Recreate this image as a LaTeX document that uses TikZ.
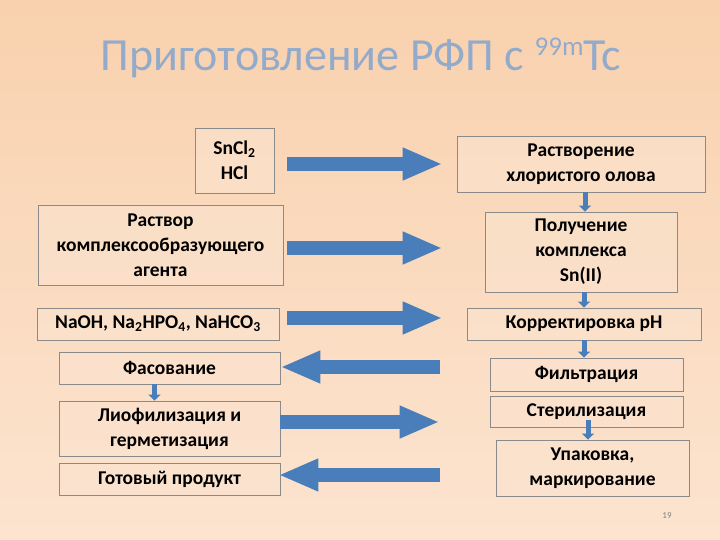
\documentclass[tikz,border=0pt]{standalone}
\usepackage{fontspec}
\setmainfont{Carlito}
\usetikzlibrary{arrows.meta,calc}
\definecolor{bgtop}{HTML}{F9D1AE}
\definecolor{bgbot}{HTML}{FCE4D0}
\definecolor{arr}{HTML}{4A7EBB}
\definecolor{boxline}{HTML}{8A8A8A}
\definecolor{boxfill}{HTML}{FBE3CF}
\definecolor{titlec}{HTML}{93ABCB}
\tikzset{
  pbox/.style={draw=boxline, line width=0.8pt, fill=boxfill, fill opacity=0.6, text opacity=1,
    font=\fontsize{19.5}{25}\selectfont\bfseries, align=center, inner sep=0pt, text=black},
  bigarr/.style={draw=arr, line width=14pt, -{Triangle[length=40pt,width=30pt]}},
  smallarr/.style={draw=arr, line width=5pt, -{Triangle[length=6pt,width=12pt]}},
}
\newcommand{\pboxat}[6]{% name, x1,y1,x2,y2, text
  \node[pbox, minimum width={#4-#2}, minimum height={#5-#3}] (#1) at ({(#2+#4)/2},{(#3+#5)/2}) {#6};}
\begin{document}
\begin{tikzpicture}[x=1pt,y=-1pt]
\shade[top color=bgtop, bottom color=bgbot] (0,0) rectangle (720,540);
\useasboundingbox (0,0) rectangle (720,540);
\node[text=titlec, font=\fontsize{46}{52}\selectfont, anchor=base] (title) at (361,71) {Приготовление РФП с \raisebox{15pt}{\fontsize{27}{29}\selectfont 99m}Тс};
% left column
\pboxat{sn}{195}{128}{274}{193}{SnCl\textsubscript{2}\\HCl}
\pboxat{agent}{38}{205}{283}{285}{Раствор\\комплексообразующего\\агента}
\pboxat{naoh}{37}{308}{279}{340}{NaOH, Na\textsubscript{2}HPO\textsubscript{4}, NaHCO\textsubscript{3}}
\pboxat{fas}{59}{352}{280}{384}{Фасование}
\pboxat{lio}{59}{401}{280}{456}{Лиофилизация и\\герметизация}
\pboxat{got}{59}{463}{280}{495}{Готовый продукт}
% right column
\pboxat{rast}{457}{136}{705}{192}{Растворение\\хлористого олова}
\pboxat{pol}{485}{212}{677}{292}{Получение\\комплекса\\Sn(II)}
\pboxat{korr}{467}{308}{701}{340}{Корректировка pH}
\pboxat{filt}{490}{358}{683}{391}{Фильтрация}
\pboxat{ster}{490}{396}{683}{427}{Стерилизация}
\pboxat{upak}{496}{440}{689}{496}{Упаковка,\\маркирование}
% big arrows
\draw[bigarr, shorten <=13pt, shorten >=14pt] (sn.east |- rast.west) -- (rast.west);
\draw[bigarr, shorten <=4pt, shorten >=42pt] ([yshift=-3pt]agent.east) -- ([yshift=-3pt]agent.east -| pol.west);
\draw[bigarr, shorten <=8pt, shorten >=24pt] ([yshift=6pt]naoh.east) -- ([yshift=6pt]korr.west);
\draw[bigarr, shorten <=50pt, shorten >=0pt] ([yshift=1pt]fas.east -| filt.west) -- ([yshift=1pt]fas.east);
\draw[bigarr, shorten <=0pt, shorten >=50pt] ([yshift=6.5pt]lio.east) -- ([yshift=6.5pt]lio.east -| ster.west);
\draw[bigarr, shorten <=56pt, shorten >=-2pt] ([yshift=4pt]got.east -| upak.west) -- ([yshift=4pt]got.east);
% small arrows
\draw[smallarr] ([xshift=4pt]rast.south) -- ([xshift=4pt]pol.north);
\draw[smallarr] ([xshift=3pt]pol.south) -- ([xshift=3pt]pol.south |- korr.north);
\draw[smallarr] (korr.south) -- (korr.south |- filt.north);
\draw[smallarr, shorten <=-7pt] ([xshift=1.5pt]ster.south) -- ([xshift=1.5pt]ster.south |- upak.north);
\draw[smallarr] ([xshift=-15pt]fas.south) -- ([xshift=-15pt]lio.north);
\node[text=gray, font=\fontsize{9}{10}\selectfont] (pg) at (667,516) {19};
\end{tikzpicture}
\end{document}
